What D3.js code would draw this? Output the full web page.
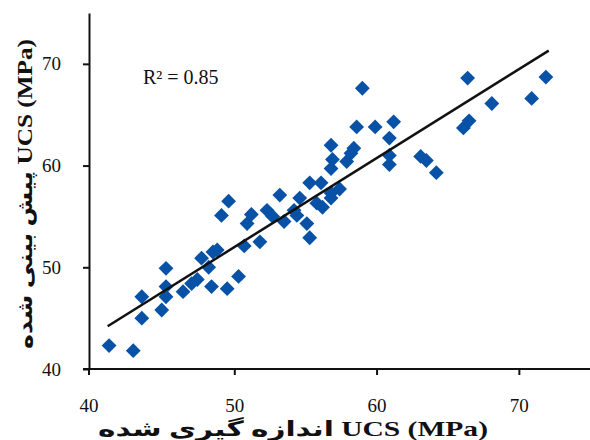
<!DOCTYPE html>
<html lang="fa">
<head>
<meta charset="UTF-8">
<title>UCS scatter</title>
<script src="https://d3js.org/d3.v7.min.js"></script>
<style>
    body { margin: 0; background: #fff; }
    svg { display: block; }
    .tick text { font-family: 'Liberation Serif', serif; font-size: 19px; fill: #111; }
    .axis-title { font-family: 'Liberation Serif', 'DejaVu Sans', serif; font-weight: bold; font-size: 21px; fill: #111; }
</style>
</head>
<body>
<div id="chart"></div>
<script>
// measured UCS (x) vs predicted UCS (y), MPa
const measured = [41.2, 42.9, 43.5, 43.5, 44.9, 45.2, 45.2, 45.2, 46.4, 47.0, 47.4, 47.7, 48.2, 48.4, 48.5,
    48.8, 49.1, 49.5, 49.6, 50.3, 50.7, 50.9, 51.2, 51.8, 52.3, 52.7, 53.2, 53.5, 54.4, 54.6, 54.2,
    55.1, 55.3, 55.3, 55.8, 56.1, 56.2, 56.8, 56.8, 57.4, 56.8, 56.9, 57.9, 56.8, 58.2, 58.4, 58.6,
    59.0, 59.9, 61.2, 60.9, 60.9, 60.9, 63.1, 63.5, 64.2, 66.1, 66.5, 66.4, 68.1, 70.9, 71.9];
const predicted = [42.3, 41.8, 45.0, 47.1, 45.8, 49.9, 48.1, 47.1, 47.6, 48.4, 48.8, 50.9, 50.0, 48.1, 51.5,
    51.7, 55.1, 47.9, 56.5, 49.1, 52.1, 54.3, 55.2, 52.5, 55.6, 55.0, 57.1, 54.5, 55.1, 56.8, 55.6,
    54.3, 52.9, 58.3, 56.3, 58.3, 55.9, 56.8, 57.3, 57.7, 59.7, 60.6, 60.4, 62.0, 61.2, 61.7, 63.8,
    67.6, 63.8, 64.3, 62.7, 61.0, 60.1, 60.9, 60.5, 59.3, 63.7, 64.4, 68.6, 66.1, 66.6, 68.7];
const trendX = [41.1, 72.1];
const trendY = [44.2, 71.3];
const xTicks = [40, 50, 60, 70];
const yTicks = [40, 50, 60, 70];
const r2Label = "R² = 0.85";
const xTitle = "اندازه گیری شده UCS (MPa)";
const yTitle = "پیش بینی شده UCS (MPa)";

const width = 590, height = 440;
const svg = d3.select("#chart").append("svg")
    .attr("width", width)
    .attr("height", height);

const x = d3.scaleLinear().domain([40, 75]).range([92, 590]);
const y = d3.scaleLinear().domain([40, 75]).range([369, 13]);
const axisX = 89;

// axes
const gx = svg.append("g")
    .attr("transform", "translate(0,369)")
    .call(d3.axisBottom(x).tickValues(xTicks).tickSize(6).tickSizeOuter(0).tickPadding(24));
gx.select(".domain").remove();
gx.selectAll(".tick line").attr("stroke", "#111").attr("stroke-width", 2);
svg.append("line")
    .attr("x1", 83).attr("x2", 590)
    .attr("y1", 369).attr("y2", 369)
    .attr("stroke", "#111").attr("stroke-width", 2);

const gy = svg.append("g")
    .attr("transform", `translate(${axisX},0)`)
    .call(d3.axisLeft(y).tickValues(yTicks).tickSize(6).tickSizeOuter(0).tickPadding(22));
gy.select(".domain").attr("stroke", "#111").attr("stroke-width", 2);
gy.selectAll(".tick line").attr("stroke", "#111").attr("stroke-width", 2);
// the 40 tick on x sits right under the y axis
gx.selectAll(".tick").filter(d => d === 40).attr("transform", `translate(${axisX},0)`);

// points
const pts = measured.map((m, i) => [m, predicted[i]]);
svg.append("g").selectAll("path")
    .data(pts)
    .join("path")
    .attr("d", d3.symbol(d3.symbolSquare, 110))
    .attr("transform", d => `translate(${x(d[0])},${y(d[1])}) rotate(45)`)
    .attr("fill", "#0752a6");

// trend line
svg.append("line")
    .attr("x1", x(trendX[0])).attr("y1", y(trendY[0]))
    .attr("x2", x(trendX[1])).attr("y2", y(trendY[1]))
    .attr("stroke", "#111").attr("stroke-width", 2.5);

svg.append("text")
    .attr("x", 143).attr("y", 84)
    .attr("font-family", "'Liberation Serif', serif")
    .attr("font-size", 20)
    .attr("fill", "#111")
    .text(r2Label);

svg.append("text")
    .attr("class", "axis-title")
    .attr("x", 293).attr("y", 436)
    .attr("text-anchor", "middle")
    .attr("textLength", 390)
    .attr("lengthAdjust", "spacingAndGlyphs")
    .text(xTitle);

svg.append("text")
    .attr("class", "axis-title")
    .attr("transform", "translate(32,194) rotate(-90)")
    .attr("text-anchor", "middle")
    .attr("textLength", 310)
    .attr("lengthAdjust", "spacingAndGlyphs")
    .text(yTitle);
</script>
</body>
</html>
